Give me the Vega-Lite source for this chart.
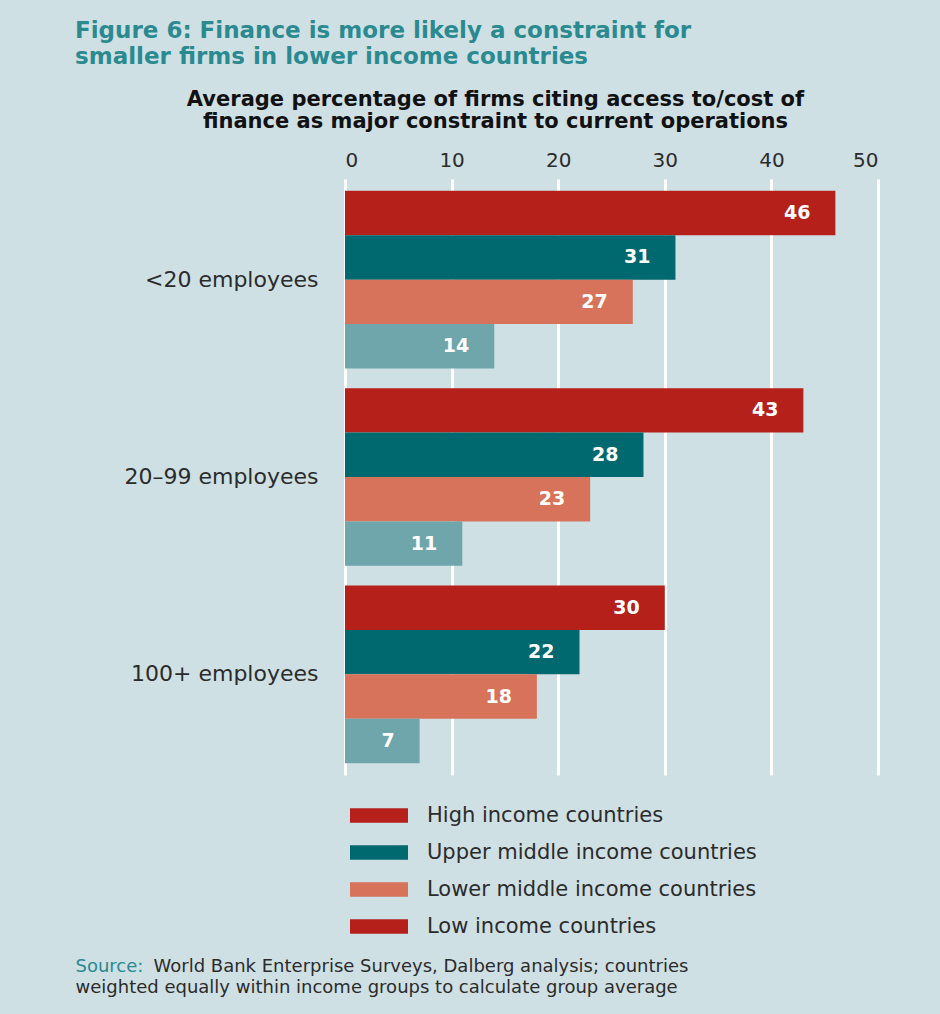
{
  "$schema": "https://vega.github.io/schema/vega-lite/v6.json",
  "background": "#cfe0e5",
  "padding": {"left": 75, "top": 20, "right": 62, "bottom": 21},
  "config": {"view": {"stroke": null}, "font": "DejaVu Sans"},
  "title": {
    "text": ["Figure 6: Finance is more likely a constraint for", "smaller firms in lower income countries"],
    "anchor": "start", "frame": "group", "dx": -270, "fontSize": 23, "lineHeight": 26, "color": "#2a8a8f", "fontWeight": "bold", "offset": 19
  },
  "data": {"values": [
    {"size": "<20 employees", "income": "High income countries", "value": 46},
    {"size": "<20 employees", "income": "Upper middle income countries", "value": 31},
    {"size": "<20 employees", "income": "Lower middle income countries", "value": 27},
    {"size": "<20 employees", "income": "Low income countries", "value": 14},
    {"size": "20–99 employees", "income": "High income countries", "value": 43},
    {"size": "20–99 employees", "income": "Upper middle income countries", "value": 28},
    {"size": "20–99 employees", "income": "Lower middle income countries", "value": 23},
    {"size": "20–99 employees", "income": "Low income countries", "value": 11},
    {"size": "100+ employees", "income": "High income countries", "value": 30},
    {"size": "100+ employees", "income": "Upper middle income countries", "value": 22},
    {"size": "100+ employees", "income": "Lower middle income countries", "value": 18},
    {"size": "100+ employees", "income": "Low income countries", "value": 7}
  ]},
  "width": 533,
  "height": 596,
  "layer": [
    {
      "mark": {"type": "bar", "opacity": 0},
      "encoding": {
        "color": {
          "field": "income", "type": "nominal",
          "scale": {"domain": ["High income countries", "Upper middle income countries", "Lower middle income countries", "Low income countries"], "range": ["#b5201b", "#00686f", "#d6735a", "#b5201b"]},
          "legend": {
            "orient": "none", "legendX": 19.5, "legendY": 622, "title": null, "padding": 0,
            "symbolType": "M-2,-0.5H2V0.5H-2Z", "symbolSize": 841, "symbolStrokeWidth": 0, "symbolOpacity": 1,
            "labelFontSize": 21, "labelColor": "#2b2b2b", "labelOffset": 33.5, "rowPadding": 12, "labelLimit": 600
          }
        }
      }
    },
    {
      "mark": {"type": "bar"},
      "encoding": {
        "y": {
          "field": "size", "type": "nominal",
          "sort": ["<20 employees", "20–99 employees", "100+ employees"],
          "scale": {"paddingInner": 0.1, "paddingOuter": 0.06},
          "axis": {
            "ticks": false, "domain": false, "labelFontSize": 22, "labelColor": "#2b2b2b", "labelPadding": 27, "labelLimit": 400,
            "title": "World Bank Enterprise Surveys, Dalberg analysis; countries",
            "titleX": -192, "titleY": 778, "titleAngle": 0, "titleAlign": "left", "titleBaseline": "top",
            "titleFontSize": 18, "titleFontWeight": "normal", "titleColor": "#2b2b2b"
          }
        },
        "yOffset": {
          "field": "income", "type": "nominal",
          "sort": ["High income countries", "Upper middle income countries", "Lower middle income countries", "Low income countries"],
          "scale": {"paddingInner": 0, "paddingOuter": 0}
        },
        "x": {
          "field": "value", "type": "quantitative",
          "scale": {"domain": [0, 50], "nice": false},
          "axis": {
            "orient": "top", "values": [0, 10, 20, 30, 40, 50], "grid": true, "gridColor": "#ffffff", "gridWidth": 3, "gridOpacity": 1,
            "ticks": false, "domain": false, "labelFontSize": 20, "labelColor": "#2b2b2b", "labelPadding": 9,
            "title": ["Average percentage of firms citing access to/cost of", "finance as major constraint to current operations"],
            "titleFontSize": 21, "titleLineHeight": 22, "titleFontWeight": "bold", "titleColor": "#111111",
            "titlePadding": 19, "titleX": 150, "titleAlign": "center"
          }
        },
        "color": {
          "field": "income", "type": "nominal",
          "scale": {"domain": ["High income countries", "Upper middle income countries", "Lower middle income countries", "Low income countries"], "range": ["#b5201b", "#00686f", "#d6735a", "#6fa6ac"]},
          "legend": null
        }
      }
    },
    {
      "mark": {"type": "text", "align": "right", "dx": -25, "color": "#ffffff", "fontWeight": "bold", "fontSize": 19, "baseline": "middle"},
      "encoding": {
        "y": {
          "field": "size", "type": "nominal", "sort": ["<20 employees", "20–99 employees", "100+ employees"],
          "axis": {
            "orient": "right", "labels": false, "ticks": false, "domain": false, "grid": false,
            "title": "Source:", "titleX": -803, "titleY": 778, "titleAngle": 0, "titleAlign": "left", "titleBaseline": "top",
            "titleFontSize": 18, "titleFontWeight": "normal", "titleColor": "#2a8a8f"
          }
        },
        "yOffset": {"field": "income", "type": "nominal", "sort": ["High income countries", "Upper middle income countries", "Lower middle income countries", "Low income countries"]},
        "x": {
          "field": "value", "type": "quantitative",
          "axis": {
            "orient": "bottom", "labels": false, "ticks": false, "domain": false, "grid": false,
            "title": "weighted equally within income groups to calculate group average",
            "titleX": -270, "titleY": 203, "titleAngle": 0, "titleAlign": "left", "titleBaseline": "top",
            "titleFontSize": 18, "titleFontWeight": "normal", "titleColor": "#2b2b2b"
          }
        },
        "text": {"field": "value", "type": "quantitative"}
      }
    }
  ],
  "resolve": {"scale": {"color": "independent"}, "legend": {"color": "independent"}, "axis": {"y": "independent", "x": "independent"}}
}
